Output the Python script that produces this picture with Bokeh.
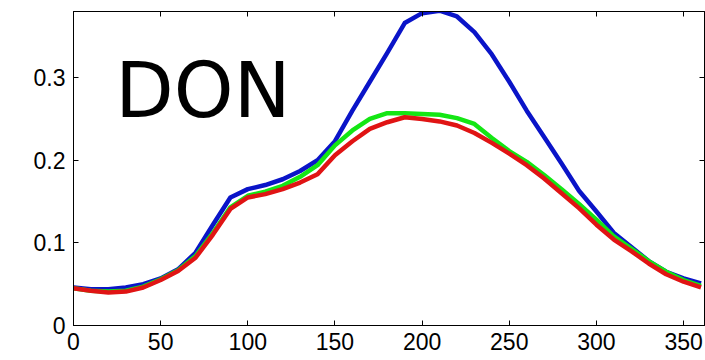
from bokeh.plotting import figure
from bokeh.models import Range1d, LinearAxis, Label, FixedTicker, CustomJSTickFormatter
from bokeh.embed import file_html
from bokeh.resources import INLINE

days = [0, 10, 20, 30, 40, 50, 60, 70, 80, 90, 100, 110, 120, 130, 140, 150, 160, 170, 180,
        190, 200, 210, 220, 230, 240, 250, 260, 270, 280, 290, 300, 310, 320, 330, 340, 350, 360]
blue = [0.046, 0.044, 0.044, 0.046, 0.050, 0.057, 0.068, 0.088, 0.122, 0.155, 0.165, 0.170,
        0.177, 0.187, 0.200, 0.223, 0.260, 0.295, 0.330, 0.366, 0.378, 0.381, 0.374, 0.355,
        0.328, 0.295, 0.260, 0.228, 0.196, 0.163, 0.138, 0.112, 0.095, 0.078, 0.065, 0.057, 0.051]
green = [0.045, 0.042, 0.041, 0.042, 0.047, 0.056, 0.067, 0.084, 0.112, 0.143, 0.157, 0.162,
         0.169, 0.180, 0.194, 0.218, 0.236, 0.250, 0.257, 0.257, 0.256, 0.255, 0.251, 0.244,
         0.227, 0.211, 0.198, 0.182, 0.165, 0.147, 0.128, 0.108, 0.093, 0.078, 0.065, 0.055, 0.048]
red = [0.045, 0.042, 0.040, 0.041, 0.046, 0.055, 0.066, 0.082, 0.110, 0.141, 0.155, 0.159,
       0.165, 0.173, 0.183, 0.206, 0.223, 0.238, 0.246, 0.252, 0.250, 0.247, 0.242, 0.233,
       0.221, 0.208, 0.194, 0.178, 0.160, 0.142, 0.122, 0.104, 0.090, 0.075, 0.062, 0.053, 0.046]
x_ticks = [0, 50, 100, 150, 200, 250, 300, 350]
y_ticks = [0, 0.1, 0.2, 0.3]
title_text = "DON"

p = figure(width=705, height=360, output_backend="svg", toolbar_location=None,
           x_range=Range1d(0, 362), y_range=Range1d(0, 0.38),
           min_border_left=73, min_border_top=11, min_border_right=1, min_border_bottom=35,
           x_axis_location=None, y_axis_location=None)
p.grid.visible = False
p.outline_line_color = "black"
p.outline_line_width = 1
p.background_fill_color = "white"
p.border_fill_color = "white"

def style(ax, labels=True):
    ax.major_tick_in = 5
    ax.major_tick_out = 0
    ax.minor_tick_line_color = None
    ax.axis_line_color = "black"
    ax.major_tick_line_color = "black"
    ax.major_label_text_font = "Liberation Sans"
    ax.major_label_text_font_size = "23px"
    ax.major_label_text_color = "black"
    if not labels:
        ax.formatter = CustomJSTickFormatter(code="return ''")
        ax.major_label_standoff = 0

bx = LinearAxis(ticker=FixedTicker(ticks=x_ticks))
style(bx)
bx.major_label_standoff = 7
p.add_layout(bx, "below")
ly = LinearAxis(ticker=FixedTicker(ticks=y_ticks))
style(ly)
ly.major_label_standoff = 8
p.add_layout(ly, "left")
tx = LinearAxis(ticker=FixedTicker(ticks=x_ticks))
style(tx, labels=False)
p.add_layout(tx, "above")
ry = LinearAxis(ticker=FixedTicker(ticks=y_ticks))
style(ry, labels=False)
p.add_layout(ry, "right")

p.line(days, blue, line_color="#0a14c8", line_width=4.5, line_join="round")
p.line(days, green, line_color="#14e614", line_width=4.5, line_join="round")
p.line(days, red, line_color="#e01414", line_width=4.5, line_join="round")

p.add_layout(Label(x=24, y=0.285, text=title_text, text_font="DejaVu Sans",
                   text_font_size="76px", text_color="black", text_baseline="alphabetic"))

open("out.html", "w").write(file_html(p, INLINE))
